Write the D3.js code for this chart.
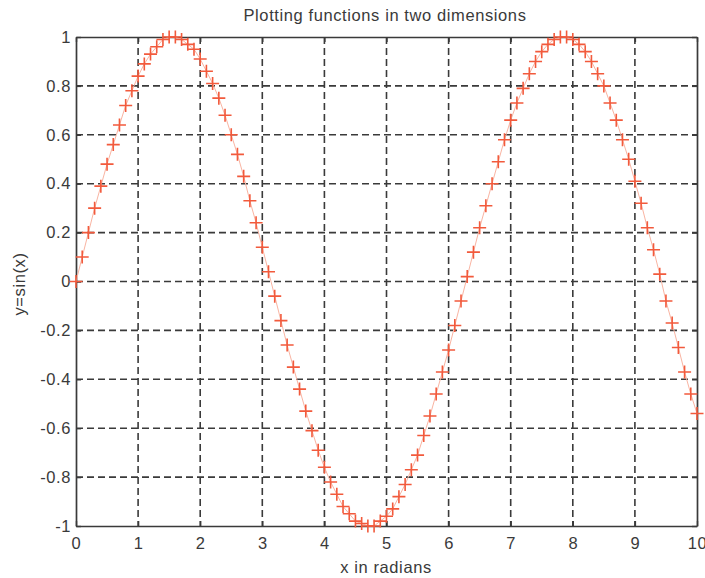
<!DOCTYPE html>
<html>
<head>
	<title>sin(x)</title>
	<meta charset="UTF-8">
	<style>
		body { margin: 0; background: #fff; }
		text { font-family: "Liberation Sans", Arial, sans-serif; fill: #3a3a3a; }
		.grid line { stroke: #3a3a3a; stroke-width: 1.6; stroke-dasharray: 7,4; }
	</style>
</head>
<body>
<script src="https://d3js.org/d3.v7.min.js"></script>
<script type="text/javascript">

'use strict';

var xValues = [
	0.0, 0.1, 0.2, 0.3, 0.4, 0.5, 0.6, 0.7, 0.8, 0.9,
	1.0, 1.1, 1.2, 1.3, 1.4, 1.5, 1.6, 1.7, 1.8, 1.9,
	2.0, 2.1, 2.2, 2.3, 2.4, 2.5, 2.6, 2.7, 2.8, 2.9,
	3.0, 3.1, 3.2, 3.3, 3.4, 3.5, 3.6, 3.7, 3.8, 3.9,
	4.0, 4.1, 4.2, 4.3, 4.4, 4.5, 4.6, 4.7, 4.8, 4.9,
	5.0, 5.1, 5.2, 5.3, 5.4, 5.5, 5.6, 5.7, 5.8, 5.9,
	6.0, 6.1, 6.2, 6.3, 6.4, 6.5, 6.6, 6.7, 6.8, 6.9,
	7.0, 7.1, 7.2, 7.3, 7.4, 7.5, 7.6, 7.7, 7.8, 7.9,
	8.0, 8.1, 8.2, 8.3, 8.4, 8.5, 8.6, 8.7, 8.8, 8.9,
	9.0, 9.1, 9.2, 9.3, 9.4, 9.5, 9.6, 9.7, 9.8, 9.9,
	10.0
];

var yValues = [
	0.00, 0.10, 0.20, 0.30, 0.39, 0.48, 0.56, 0.64, 0.72, 0.78,
	0.84, 0.89, 0.93, 0.96, 0.99, 1.00, 1.00, 0.99, 0.97, 0.95,
	0.91, 0.86, 0.81, 0.75, 0.68, 0.60, 0.52, 0.43, 0.33, 0.24,
	0.14, 0.04, -0.06, -0.16, -0.26, -0.35, -0.44, -0.53, -0.61, -0.69,
	-0.76, -0.82, -0.87, -0.92, -0.95, -0.98, -0.99, -1.00, -1.00, -0.98,
	-0.96, -0.93, -0.88, -0.83, -0.77, -0.71, -0.63, -0.55, -0.46, -0.37,
	-0.28, -0.18, -0.08, 0.02, 0.12, 0.22, 0.31, 0.40, 0.49, 0.58,
	0.66, 0.73, 0.79, 0.85, 0.90, 0.94, 0.97, 0.99, 1.00, 1.00,
	0.99, 0.97, 0.94, 0.90, 0.85, 0.80, 0.73, 0.66, 0.58, 0.50,
	0.41, 0.32, 0.22, 0.13, 0.03, -0.08, -0.17, -0.27, -0.37, -0.46,
	-0.54
];

var xTicks = [0, 1, 2, 3, 4, 5, 6, 7, 8, 9, 10];
var yTicks = [-1, -0.8, -0.6, -0.4, -0.2, 0, 0.2, 0.4, 0.6, 0.8, 1];

var width = 705;
var height = 578;
var margin = {top: 37, right: 8, bottom: 52, left: 76};
var fontSize = "16.5px";
var spacing = "0.6px";

var x = d3.scaleLinear()
	.domain([0, 10])
	.range([margin.left, width - margin.right]);

var y = d3.scaleLinear()
	.domain([-1, 1])
	.range([height - margin.bottom, margin.top]);

var svg = d3.select("body").append("svg")
	.attr("width", width)
	.attr("height", height);

// dashed grid
var grid = svg.append("g").attr("class", "grid");
grid.selectAll(".vx")
	.data(xTicks.slice(1, -1))
	.enter().append("line")
	.attr("x1", function(d){ return x(d); })
	.attr("x2", function(d){ return x(d); })
	.attr("y1", y(1))
	.attr("y2", y(-1));
grid.selectAll(".hy")
	.data(yTicks.slice(1, -1))
	.enter().append("line")
	.attr("x1", x(0))
	.attr("x2", x(10))
	.attr("y1", function(d){ return y(d); })
	.attr("y2", function(d){ return y(d); });

// axes with inward ticks, MATLAB style
var fmt = function(d){ return String(d); };

svg.append("g")
	.attr("transform", "translate(0," + y(-1) + ")")
	.call(d3.axisBottom(x).tickValues(xTicks).tickFormat(fmt).tickSizeInner(-5).tickSizeOuter(0).tickPadding(11))
	.call(style);
svg.append("g")
	.attr("transform", "translate(0," + y(1) + ")")
	.call(d3.axisTop(x).tickValues(xTicks).tickFormat("").tickSizeInner(-5).tickSizeOuter(0))
	.call(style);
svg.append("g")
	.attr("transform", "translate(" + x(0) + ",0)")
	.call(d3.axisLeft(y).tickValues(yTicks).tickFormat(fmt).tickSizeInner(-5).tickSizeOuter(0).tickPadding(5))
	.call(style);
svg.append("g")
	.attr("transform", "translate(" + x(10) + ",0)")
	.call(d3.axisRight(y).tickValues(yTicks).tickFormat("").tickSizeInner(-5).tickSizeOuter(0))
	.call(style);

function style(g){
	g.select(".domain").attr("stroke", "#3a3a3a").attr("stroke-width", 1.7);
	g.selectAll(".tick line").attr("stroke", "#3a3a3a").attr("stroke-width", 1.4);
	g.selectAll(".tick text")
		.attr("fill", "#3a3a3a")
		.style("font-family", "'Liberation Sans', Arial, sans-serif")
		.style("font-size", fontSize)
		.style("letter-spacing", spacing);
}

// curve
var pts = xValues.map(function(v, i){ return [v, yValues[i]]; });

svg.append("path")
	.datum(pts)
	.attr("fill", "none")
	.attr("stroke", "#f9b4a2")
	.attr("stroke-width", 1)
	.attr("d", d3.line()
		.x(function(d){ return x(d[0]); })
		.y(function(d){ return y(d[1]); }));

var s = 6.5;
var marks = svg.append("g")
	.attr("stroke", "#f25a3c")
	.attr("stroke-width", 1.6)
	.attr("fill", "none");
marks.selectAll("path")
	.data(pts)
	.enter().append("path")
	.attr("d", function(d){
		var cx = x(d[0]), cy = y(d[1]);
		return "M" + (cx - s) + "," + cy + "H" + (cx + s) + "M" + cx + "," + (cy - s) + "V" + (cy + s);
	});

// labels
svg.append("text")
	.attr("x", 385)
	.attr("y", 21)
	.attr("text-anchor", "middle")
	.style("font-size", fontSize)
	.style("letter-spacing", spacing)
	.text("Plotting functions in two dimensions");

svg.append("text")
	.attr("x", 386)
	.attr("y", 573)
	.attr("text-anchor", "middle")
	.style("font-size", fontSize)
	.style("letter-spacing", spacing)
	.text("x in radians");

svg.append("text")
	.attr("transform", "translate(25," + 284 + ") rotate(-90)")
	.attr("text-anchor", "middle")
	.style("font-size", fontSize)
	.style("letter-spacing", spacing)
	.text("y=sin(x)");

</script>
</body>
</html>
